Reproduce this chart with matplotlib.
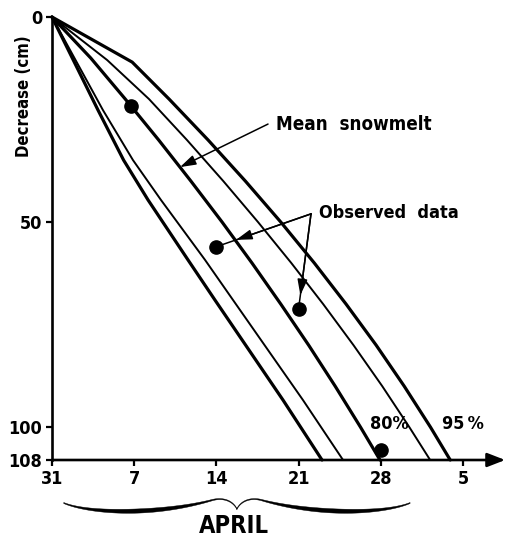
import numpy as np
import matplotlib
matplotlib.use("Agg")
import matplotlib.pyplot as plt
from matplotlib import transforms

# x: days counted from 31 March; y: decrease in snow depth (cm)
day_ticks = [0, 7, 14, 21, 28, 35]
day_labels = ["31", "7", "14", "21", "28", "5"]
depth_ticks = [0, 50, 100, 108]
depth_labels = ["0", "50", "100", "108"]

# envelope curves (thick = 95 %, thin = 80 %) and the mean snowmelt curve
fast95_day = [0, 3.92, 6.1, 8.18, 11.58, 13.88, 19.68, 23.0]
fast95_cm = [0, 22.7, 34.9, 44.6, 59.2, 69.0, 93.4, 108]
fast80_day = [0, 4.34, 6.9, 9.28, 13.03, 15.42, 21.38, 24.79]
fast80_cm = [0, 22.7, 34.9, 44.6, 59.2, 69.0, 93.4, 108]
mean_day = [0, 3.30, 6.24, 9.09, 11.83, 14.49, 17.04, 19.49, 21.86, 24.12, 26.28, 27.94]
mean_cm = [0, 10, 20, 30, 40, 50, 60, 70, 80, 90, 100, 108]
slow80_day = [0, 4.7, 8.26, 11.50, 14.59, 17.55, 20.39, 23.10, 25.68, 28.13, 30.44, 32.21]
slow80_cm = [0, 10.5, 20, 30, 40, 50, 60, 70, 80, 90, 100, 108]
slow95_day = [0, 6.83, 9.97, 13.30, 16.47, 19.49, 22.35, 25.05, 27.61, 30.0, 32.24, 33.92]
slow95_cm = [0, 11, 20, 30, 40, 50, 60, 70, 80, 90, 100, 108]

# observed snow-depth decrease
obs_day = [6.7, 14.0, 21.0, 28.0]
obs_cm = [21.7, 56.0, 71.2, 105.6]

W, H = 506, 537
fig = plt.figure(figsize=(W / 100, H / 100), dpi=100)
ax = fig.add_axes([52 / W, 77 / H, 452 / W, 443 / H])
ax.set_xlim(0, 38.5)
ax.set_ylim(108, 0)

bold = dict(fontweight="bold", fontstretch="condensed", color="black")

thick, thin = 2.3, 1.4
for d, c, lw in [(fast95_day, fast95_cm, thick), (fast80_day, fast80_cm, thin),
                 (mean_day, mean_cm, thick), (slow80_day, slow80_cm, thin),
                 (slow95_day, slow95_cm, thick)]:
    ax.plot(d, c, color="black", lw=lw, solid_joinstyle="round",
            solid_capstyle="round", clip_on=False)

ax.plot(obs_day, obs_cm, "o", color="black", ms=9.5, clip_on=False, zorder=5)

# axes
for s in ["top", "right", "bottom"]:
    ax.spines[s].set_visible(False)
ax.spines["left"].set_linewidth(1.9)
ax.annotate("", xy=(38.6, 108), xytext=(0, 108), xycoords="data",
            arrowprops=dict(arrowstyle="-|>,head_length=0.9,head_width=0.35",
                            lw=1.9, color="black", shrinkA=0, shrinkB=0,
                            mutation_scale=12),
            annotation_clip=False)

ax.set_xticks(day_ticks)
ax.set_xticklabels(day_labels)
ax.set_yticks(depth_ticks)
ax.set_yticklabels(depth_labels)
ax.tick_params(axis="both", direction="out", length=4, width=1.6, labelsize=13)
ax.tick_params(axis="x", pad=3)
ax.tick_params(axis="y", pad=3)
for lab in ax.get_xticklabels() + ax.get_yticklabels():
    lab.set_fontweight("bold")
    lab.set_fontstretch("condensed")

ax.text(-0.062, 0.822, "Decrease (cm)", transform=ax.transAxes, rotation=90,
        ha="center", va="center", fontsize=12, **bold)

# labels with leader arrows
ax.text(19.1, 26.1, "Mean  snowmelt", ha="left", va="center", fontsize=13.5, **bold)
ax.annotate("", xy=(10.9, 36.6), xytext=(18.4, 26.1),
            arrowprops=dict(arrowstyle="-|>,head_length=0.8,head_width=0.25",
                            lw=1.1, color="black", shrinkA=0, shrinkB=0,
                            mutation_scale=12))

ax.text(22.7, 47.8, "Observed  data", ha="left", va="center", fontsize=13, **bold)
apex = (22.06, 48.0)
for i, gap in [(1, 15), (2, 10)]:
    ax.plot([apex[0], obs_day[i]], [apex[1], obs_cm[i]], color="black", lw=1.1)
    ax.annotate("", xy=(obs_day[i], obs_cm[i]), xytext=apex,
                arrowprops=dict(arrowstyle="-|>,head_length=0.8,head_width=0.25",
                                lw=1.1, color="black", shrinkA=0, shrinkB=gap,
                                mutation_scale=12))

ax.text(28.7, 99.2, "80%", ha="center", va="center", fontsize=13, **bold)
ax.text(35.0, 99.2, "95\u2009%", ha="center", va="center", fontsize=13, **bold)

# brace spanning April under the day axis
fig.canvas.draw()
ax_h = ax.get_window_extent().height
blend = transforms.blended_transform_factory(ax.transData, ax.transAxes)


def bezier(p0, p1, p2, p3, n=60):
    t = np.linspace(0, 1, n)[:, None]
    return ((1 - t) ** 3) * p0 + 3 * ((1 - t) ** 2) * t * p1 + 3 * (1 - t) * t ** 2 * p2 + t ** 3 * p3


seg1 = bezier(np.array([0, 43]), np.array([0.15, 54]), np.array([0.55, 55]), np.array([0.86, 40]))
seg2 = bezier(np.array([0.86, 40]), np.array([0.93, 37]), np.array([0.98, 42]), np.array([1.0, 49]))
half = np.vstack([seg1, seg2[1:]])
u, depth = half[:, 0], half[:, 1]
width = 1.0 + 3.2 * np.sin(np.pi * np.clip(u / 0.9, 0, 1)) ** 1.2

x_start, x_end = 1.0, 30.5
x_mid = 0.5 * (x_start + x_end)
for side in (-1, 1):
    xs = x_mid + side * (1 - u) * (x_mid - x_start)
    top = -(depth - width / 2) / ax_h
    bot = -(depth + width / 2) / ax_h
    ax.fill(np.concatenate([xs, xs[::-1]]), np.concatenate([top, bot[::-1]]),
            color="black", lw=0.3, transform=blend, clip_on=False)

ax.text(15.5, -0.149, "APRIL", transform=blend, ha="center", va="center",
        fontsize=17, **bold)

fig.savefig("out.png", dpi=100)
